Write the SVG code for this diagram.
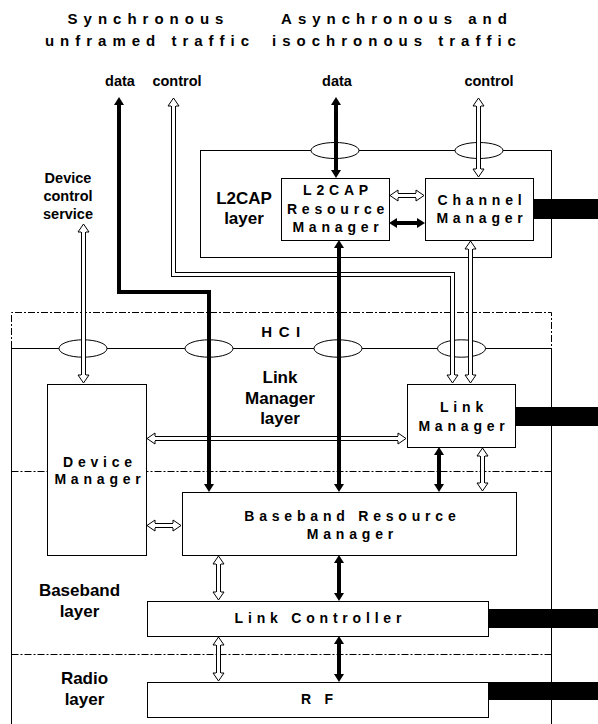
<svg xmlns="http://www.w3.org/2000/svg" width="598" height="724" viewBox="0 0 598 724">
<defs>
<marker id="bh" markerUnits="userSpaceOnUse" markerWidth="12" markerHeight="12" refX="0.5" refY="5" orient="auto-start-reverse" overflow="visible"><path d="M0,0 L8,5 L0,10 Z" fill="#000"/></marker>
<marker id="hh" markerUnits="userSpaceOnUse" markerWidth="12" markerHeight="13" refX="0" refY="5.5" orient="auto-start-reverse" overflow="visible"><path d="M0,3 L0,0 L8,5.5 L0,11 L0,8" fill="#fff" stroke="#000" stroke-width="1"/></marker>
<style>
.ln{fill:none;stroke:#000;stroke-width:1}
.box{fill:#fff;stroke:#000;stroke-width:1}
.dd{fill:none;stroke:#000;stroke-width:1;stroke-dasharray:7 2 2 2}
.ell{fill:#fff;stroke:#000;stroke-width:1}
.bar{fill:#000}
.ba{fill:none;stroke:#000;stroke-width:4;marker-start:url(#bh);marker-end:url(#bh)}
.ho{fill:none;stroke:#000;stroke-width:5;stroke-linejoin:miter}
.hi{fill:none;stroke:#fff;stroke-width:3;stroke-linejoin:miter;marker-start:url(#hh);marker-end:url(#hh)}
text{font-family:"Liberation Sans",Arial,Helvetica,sans-serif;font-weight:bold;fill:#000;text-anchor:middle}
.t{font-size:15px;letter-spacing:6px}
.lb{font-size:14.5px}
.ly{font-size:17px}
.bx{font-size:14px;letter-spacing:4.8px}
.hc{font-size:15px;letter-spacing:6.5px}
</style>
</defs>
<rect width="598" height="724" fill="#fff"/>

<g id="titles">
<text class="t" x="148.5" y="24">Synchronous</text>
<text class="t" x="150" y="46">unframed traffic</text>
<text class="t" x="397" y="24">Asynchronous and</text>
<text class="t" x="397" y="46">isochronous traffic</text>
</g>

<g id="service-labels">
<text class="lb" x="120" y="86">data</text>
<text class="lb" x="177" y="86">control</text>
<text class="lb" x="337" y="86">data</text>
<text class="lb" x="489" y="86">control</text>
<text class="lb" x="68" y="183">Device</text>
<text class="lb" x="68" y="201">control</text>
<text class="lb" x="68" y="219">service</text>
</g>

<g id="controller-frame">
<path class="ln" d="M11.5,348 V724 M551.5,348 V724"/>
<path class="dd" d="M11.5,471.5 H551.5"/>
<path class="dd" d="M11.5,654.5 H551.5"/>
</g>

<g id="l2cap-layer">
<rect class="box" x="200.5" y="150.5" width="351" height="107"/>
<ellipse class="ell" cx="335" cy="150.5" rx="24" ry="8"/>
<ellipse class="ell" cx="479" cy="150.5" rx="24" ry="8"/>
<text class="ly" x="244" y="204">L2CAP</text>
<text class="ly" x="244" y="223.5">layer</text>
</g>

<g id="l2cap-resource-manager">
<rect class="box" x="281.5" y="178.5" width="108" height="62"/>
<text class="bx" x="338" y="195">L2CAP</text>
<text class="bx" x="338" y="213.5">Resource</text>
<text class="bx" x="338" y="232">Manager</text>
</g>

<g id="channel-manager">
<rect class="box" x="425.5" y="178.5" width="108" height="62"/>
<rect class="bar" x="534" y="199" width="64" height="20"/>
<text class="bx" x="482" y="205">Channel</text>
<text class="bx" x="482" y="222.5">Manager</text>
</g>

<g id="hci">
<path class="dd" d="M11.5,348 V312.5 H551.5 V348"/>
<path class="ln" d="M11.5,348.5 H551.5"/>
<ellipse class="ell" cx="83" cy="348.5" rx="24" ry="8.7"/>
<ellipse class="ell" cx="209" cy="348.5" rx="24" ry="8.7"/>
<ellipse class="ell" cx="338" cy="348.5" rx="24" ry="8.7"/>
<ellipse class="ell" cx="461.5" cy="348.5" rx="24" ry="8.7"/>
<text class="hc" x="284" y="336.5">HCI</text>
</g>

<g id="link-manager-layer">
<text class="ly" x="280" y="383">Link</text>
<text class="ly" x="280" y="404">Manager</text>
<text class="ly" x="280" y="424">layer</text>
</g>

<g id="device-manager">
<rect class="box" x="47.5" y="384.5" width="99" height="171"/>
<text class="bx" x="100" y="466.5">Device</text>
<text class="bx" x="100" y="484">Manager</text>
</g>

<g id="link-manager">
<rect class="box" x="407.5" y="384.5" width="108" height="63"/>
<rect class="bar" x="516" y="407" width="82" height="19"/>
<text class="bx" x="464" y="412">Link</text>
<text class="bx" x="464" y="430.5">Manager</text>
</g>

<g id="baseband-resource-manager">
<rect class="box" x="182.5" y="492.5" width="334" height="63"/>
<text class="bx" x="352.4" y="520.5">Baseband Resource</text>
<text class="bx" x="352.4" y="538.5">Manager</text>
</g>

<g id="baseband-layer">
<text class="ly" x="79.5" y="596">Baseband</text>
<text class="ly" x="79.5" y="617">layer</text>
</g>

<g id="link-controller">
<rect class="box" x="147.5" y="601.5" width="341" height="35"/>
<rect class="bar" x="489" y="609" width="109" height="19"/>
<text class="bx" x="320.4" y="623">Link Controller</text>
</g>

<g id="radio-layer">
<text class="ly" x="84.5" y="684">Radio</text>
<text class="ly" x="84.5" y="705">layer</text>
</g>

<g id="rf">
<rect class="box" x="147.5" y="682.5" width="341" height="35"/>
<rect class="bar" x="489" y="682" width="109" height="18"/>
<text class="bx" x="319.5" y="704">R F</text>
</g>

<g id="connectors">
<path class="ho" d="M173.5,106 V274.5 H452.5 V375"/>
<path class="hi" d="M173.5,106 V274.5 H452.5 V375"/>
<path class="ho" d="M478.5,106 V169"/>
<path class="hi" d="M478.5,106 V169"/>
<path class="ho" d="M470.5,249 V375"/>
<path class="hi" d="M470.5,249 V375"/>
<path class="ho" d="M398,195.5 H416"/>
<path class="hi" d="M398,195.5 H416"/>
<path class="ho" d="M83.5,232 V375"/>
<path class="hi" d="M83.5,232 V375"/>
<path class="ho" d="M155,438.5 H398"/>
<path class="hi" d="M155,438.5 H398"/>
<path class="ho" d="M155,525.5 H173"/>
<path class="hi" d="M155,525.5 H173"/>
<path class="ho" d="M482.5,456 V483"/>
<path class="hi" d="M482.5,456 V483"/>
<path class="ho" d="M218.5,564 V592"/>
<path class="hi" d="M218.5,564 V592"/>
<path class="ho" d="M218.5,645 V673"/>
<path class="hi" d="M218.5,645 V673"/>

<path class="ba" d="M119,104.5 V292 H209 V484.5"/>
<path class="ba" d="M336,104.5 V170.5"/>
<path class="ba" d="M339,247.5 V484.5"/>
<path class="ba" d="M396.5,223 H417.5"/>
<path class="ba" d="M439,454.5 V484.5"/>
<path class="ba" d="M339,562.5 V593.5"/>
<path class="ba" d="M339,643.5 V674.5"/>
</g>
</svg>
